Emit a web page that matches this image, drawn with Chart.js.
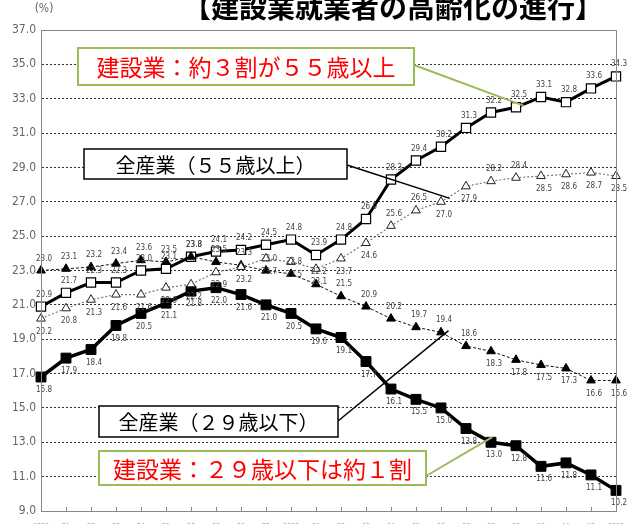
<!DOCTYPE html>
<html lang="ja">
<head>
<meta charset="utf-8">
<script src="https://cdn.jsdelivr.net/npm/chart.js@4.4.1/dist/chart.umd.min.js"></script>
<style>
  html, body { margin: 0; padding: 0; background: #fff; }
  #wrap { width: 633px; height: 524px; position: relative; }
</style>
</head>
<body>
<div id="wrap"><canvas id="agingChart" width="633" height="524"></canvas></div>
<script>
// 年（横軸）
const years = ['1990', '91', '92', '93', '94', '95', '96', '97', '98', '99', '2000', '01',
  '02', '03', '04', '05', '06', '07', '08', '09', '10', '11', '12', '2013'];

// 建設業 55歳以上 (%)
const constOver55 = [20.9, 21.7, 22.3, 22.3, 23.0, 23.1, 23.8, 24.1, 24.2, 24.5, 24.8, 23.9,
  24.8, 26.0, 28.3, 29.4, 30.2, 31.3, 32.2, 32.5, 33.1, 32.8, 33.6, 34.3];
// 全産業 55歳以上 (%)
const allOver55 = [20.2, 20.8, 21.3, 21.6, 21.6, 22.0, 22.2, 22.9, 23.2, 23.7, 23.5, 23.1,
  23.7, 24.6, 25.6, 26.5, 27.0, 27.9, 28.2, 28.4, 28.5, 28.6, 28.7, 28.5];
// 全産業 29歳以下 (%)
const allUnder29 = [23.0, 23.1, 23.2, 23.4, 23.6, 23.5, 23.8, 23.5, 23.3, 23.0, 22.8, 22.2,
  21.5, 20.9, 20.2, 19.7, 19.4, 18.6, 18.3, 17.8, 17.5, 17.3, 16.6, 16.6];
// 建設業 29歳以下 (%)
const constUnder29 = [16.8, 17.9, 18.4, 19.8, 20.5, 21.1, 21.8, 22.0, 21.6, 21.0, 20.5, 19.6,
  19.1, 17.7, 16.1, 15.5, 15.0, 13.8, 13.0, 12.8, 11.6, 11.8, 11.1, 10.2];

// 縦軸
const yMin = 9, yMax = 37, yStep = 2;

const narrowFont = '"Liberation Sans Narrow", "DejaVu Sans Condensed", "Liberation Sans", sans-serif';
const jpFont = '"Noto Sans CJK JP", "Noto Sans", sans-serif';

// data labels next to each point
const valueLabels = {
  id: 'valueLabels',
  afterDatasetsDraw(chart) {
    const ctx = chart.ctx;
    ctx.save();
    ctx.font = '8px ' + narrowFont;
    ctx.fillStyle = '#444';
    ctx.textAlign = 'center';
    ctx.textBaseline = 'middle';
    chart.data.datasets.forEach((ds, di) => {
      const meta = chart.getDatasetMeta(di);
      meta.data.forEach((pt, i) => {
        const below = ds.labelBelow(i);
        ctx.fillText(ds.data[i].toFixed(1), pt.x + 3, pt.y + (below ? 13 : -12));
      });
    });
    ctx.restore();
  }
};

// frame, inner ticks, title, call-out boxes
const decorations = {
  id: 'decorations',
  afterDraw(chart) {
    const ctx = chart.ctx;
    const area = chart.chartArea;
    const xs = chart.scales.x;
    const ys = chart.scales.y;
    ctx.save();

    // plot frame
    ctx.strokeStyle = '#888';
    ctx.lineWidth = 1;
    ctx.strokeRect(area.left + 0.5, area.top + 0.5, area.right - area.left, area.bottom - area.top);
    ctx.beginPath();
    for (let i = 1; i < years.length; i++) {
      const x = Math.round(xs.getPixelForValue(i)) + 0.5;
      ctx.moveTo(x, area.bottom);
      ctx.lineTo(x, area.bottom - 4);
    }
    ctx.stroke();

    // title
    ctx.fillStyle = '#000';
    ctx.textAlign = 'center';
    ctx.textBaseline = 'middle';
    ctx.font = 'bold 28px ' + jpFont;
    ctx.fillText('【建設業就業者の高齢化の進行】', 393, 7);
    ctx.font = '12px ' + narrowFont;
    ctx.fillStyle = '#666';
    ctx.fillText('(%)', 44, 9);

    const px = (i, v) => [xs.getPixelForValue(i), ys.getPixelForValue(v)];

    // leader lines
    const line = (from, to, color, width) => {
      ctx.beginPath();
      ctx.strokeStyle = color;
      ctx.lineWidth = width;
      ctx.moveTo(from[0], from[1]);
      ctx.lineTo(to[0], to[1]);
      ctx.stroke();
    };
    line([414, 65], px(19.3, 32.6), '#9bbb59', 2);
    line([347, 165], px(16.35, 27.2), '#000', 1.5);
    line([338, 421], px(16.3, 19.5), '#000', 1.5);
    line([426, 476], px(18.05, 13.3), '#9bbb59', 2);

    // call-out boxes
    const box = (x, y, w, h, border, bw, text, color, size) => {
      ctx.fillStyle = '#fff';
      ctx.fillRect(x, y, w, h);
      ctx.strokeStyle = border;
      ctx.lineWidth = bw;
      ctx.strokeRect(x, y, w, h);
      ctx.fillStyle = color;
      ctx.font = size + 'px ' + jpFont;
      ctx.textAlign = 'center';
      ctx.textBaseline = 'middle';
      ctx.fillText(text, x + w / 2, y + h / 2 + 1);
    };
    box(78, 48, 336, 37, '#9bbb59', 2, '建設業：約３割が５５歳以上', '#ff0000', 23);
    box(84, 149, 263, 30, '#000', 1.5, '全産業（５５歳以上）', '#000', 20);
    box(99, 406, 239, 31, '#000', 1.5, '全産業（２９歳以下）', '#000', 20);
    box(99, 451, 327, 34, '#9bbb59', 2, '建設業：２９歳以下は約１割', '#ff0000', 23);

    ctx.restore();
  }
};

const ctx = document.getElementById('agingChart').getContext('2d');

new Chart(ctx, {
  type: 'line',
  data: {
    labels: years,
    datasets: [
      {
        label: '全産業（55歳以上）',
        data: allOver55,
        borderColor: '#777',
        borderWidth: 1.2,
        borderDash: [2, 2],
        pointStyle: 'triangle',
        pointRadius: 5,
        pointBackgroundColor: '#fff',
        pointBorderColor: '#222',
        pointBorderWidth: 1,
        labelBelow: i => ![14, 15, 18, 19].includes(i)
      },
      {
        label: '全産業（29歳以下）',
        data: allUnder29,
        borderColor: '#111',
        borderWidth: 1,
        borderDash: [3, 2],
        pointStyle: 'triangle',
        pointRadius: 5,
        pointBackgroundColor: '#000',
        pointBorderColor: '#000',
        pointBorderWidth: 1,
        labelBelow: i => i >= 18
      },
      {
        label: '建設業（29歳以下）',
        data: constUnder29,
        borderColor: '#000',
        borderWidth: 3.5,
        pointStyle: 'rect',
        pointRadius: 7,
        pointBackgroundColor: '#000',
        pointBorderColor: '#000',
        pointBorderWidth: 1,
        labelBelow: i => true
      },
      {
        label: '建設業（55歳以上）',
        data: constOver55,
        borderColor: '#000',
        borderWidth: 3,
        pointStyle: 'rect',
        pointRadius: 6.5,
        pointBackgroundColor: '#fff',
        pointBorderColor: '#000',
        pointBorderWidth: 1.2,
        labelBelow: i => false
      }
    ]
  },
  options: {
    responsive: false,
    animation: false,
    layout: { padding: { top: 30, right: 17, bottom: 0, left: 0 } },
    plugins: {
      legend: { display: false },
      tooltip: { enabled: false }
    },
    elements: { line: { tension: 0 } },
    scales: {
      x: {
        offset: false,
        afterFit: scale => { scale.height = 13; },
        grid: { display: false },
        border: { display: true, color: '#888', width: 1 },
        ticks: {
          autoSkip: false,
          maxRotation: 0,
          padding: 3,
          color: '#999',
          font: { size: 7, family: narrowFont }
        }
      },
      y: {
        min: yMin,
        max: yMax,
        afterFit: scale => { scale.width = 41; },
        ticks: {
          stepSize: yStep,
          padding: 5,
          color: '#666',
          font: { size: 12, family: narrowFont },
          callback: v => Number(v).toFixed(1)
        },
        grid: {
          drawTicks: false,
          lineWidth: 1,
          color: c => (c.tick && (c.tick.value === yMin || c.tick.value === yMax)) ? 'rgba(0,0,0,0)' : '#333'
        },
        border: { display: true, color: '#888', width: 1, dash: [2, 2] }
      }
    }
  },
  plugins: [valueLabels, decorations]
});
</script>
</body>
</html>
